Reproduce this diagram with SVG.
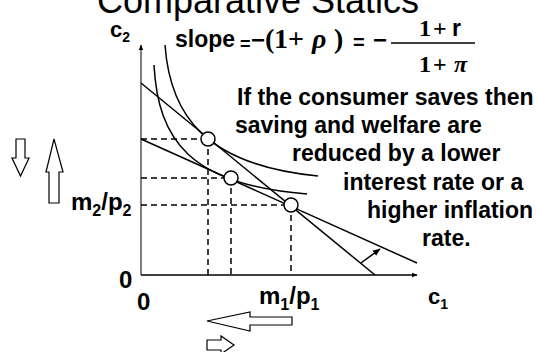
<svg xmlns="http://www.w3.org/2000/svg" width="537" height="352" viewBox="0 0 537 352">
<defs>
<style>
.ln{stroke:#000;stroke-width:1.5;fill:none}
.ds{stroke:#000;stroke-width:1.5;fill:none;stroke-dasharray:6,4}
.ax{stroke:#000;stroke-width:1.3;fill:none}
.pt{fill:#fff;stroke:#000;stroke-width:1.5}
.blk{fill:#fff;stroke:#000;stroke-width:1.2}
.sb{font-family:"Liberation Sans",Arial,sans-serif;font-weight:bold;fill:#000}
.sr{font-family:"Liberation Serif","Times New Roman",serif;font-weight:bold;fill:#000}
</style>
<marker id="ah" viewBox="0 0 10 10" refX="9" refY="5" markerWidth="6" markerHeight="6" orient="auto" markerUnits="userSpaceOnUse"><path d="M0,1 L10,5 L0,9 z" fill="#000"/></marker>
<marker id="ah2" viewBox="0 0 10 10" refX="9" refY="5" markerWidth="8" markerHeight="8" orient="auto" markerUnits="userSpaceOnUse"><path d="M0,1 L10,5 L0,9 z" fill="#000"/></marker>
</defs>
<rect width="537" height="352" fill="#fff"/>
<text x="258" y="13" text-anchor="middle" font-family="'Liberation Sans',Arial,sans-serif" font-size="36" fill="#000">Comparative Statics</text>

<g id="axes">
<line x1="141" y1="275" x2="141" y2="45" stroke="#555" stroke-width="1.5" marker-end="url(#ah)"/>
<line class="ax" x1="141" y1="275" x2="417" y2="275" marker-end="url(#ah)"/>
</g>

<g id="connectors">
<line class="ds" x1="141" y1="139" x2="208" y2="139"/>
<line class="ds" x1="141" y1="178" x2="231" y2="178"/>
<line class="ds" x1="141" y1="205" x2="291" y2="205"/>
<line class="ds" x1="208" y1="139" x2="208" y2="275"/>
<line class="ds" x1="231" y1="178" x2="231" y2="275"/>
<line class="ds" x1="291" y1="205" x2="291" y2="275"/>
<line class="ln" x1="141" y1="83" x2="375" y2="275"/>
<line class="ln" x1="141" y1="139" x2="417" y2="263"/>
<path class="ln" d="M165,45 C170,115 205,165 318,176"/>
<path class="ln" d="M154,65 C158,140 190,185 307,194"/>
<line class="ln" x1="361" y1="263" x2="380" y2="249" marker-end="url(#ah2)"/>
</g>

<g id="point1"><circle class="pt" cx="208" cy="139" r="7"/></g>
<g id="point2"><circle class="pt" cx="231" cy="178" r="7"/></g>
<g id="point3"><circle class="pt" cx="291" cy="205" r="7"/></g>

<g id="labels">
<text class="sb" x="110" y="37" font-size="22">c<tspan font-size="14" dy="5">2</tspan></text>
<text class="sb" x="428" y="304" font-size="22">c<tspan font-size="14" dy="5">1</tspan></text>
<text class="sb" x="71" y="210" font-size="24">m<tspan font-size="16" dy="6">2</tspan><tspan dy="-6">/p</tspan><tspan font-size="16" dy="6">2</tspan></text>
<text class="sb" x="259" y="304" font-size="24">m<tspan font-size="16" dy="6">1</tspan><tspan dy="-6">/p</tspan><tspan font-size="16" dy="6">1</tspan></text>
<text class="sb" x="119" y="288" font-size="24">0</text>
<text class="sb" x="137" y="310" font-size="24">0</text>
</g>

<g id="formula">
<text class="sb" x="175" y="47" font-size="23">slope</text>
<text class="sb" x="240" y="50" font-size="18">=</text>
<text class="sb" x="251" y="48" font-size="24">−</text>
<text class="sr" y="48" font-size="28"><tspan x="265">(</tspan><tspan x="274">1</tspan><tspan x="288">+</tspan><tspan x="312" font-style="italic">ρ</tspan><tspan x="334">)</tspan></text>
<text class="sb" x="353" y="49" font-size="20">=</text>
<text class="sb" x="373" y="48" font-size="24">−</text>
<line x1="391" y1="43" x2="475" y2="43" stroke="#000" stroke-width="1.5"/>
<text class="sr" y="36" font-size="24"><tspan x="419">1</tspan><tspan x="433">+</tspan></text>
<text class="sb" x="452" y="36" font-size="23">r</text>
<text class="sr" y="72" font-size="24"><tspan x="419">1</tspan><tspan x="433">+</tspan><tspan x="454" font-style="italic">π</tspan></text>
</g>

<g id="note">
<text class="sb" font-size="23"><tspan x="237" y="105">If the consumer saves then</tspan><tspan x="235" y="133">saving and welfare are</tspan><tspan x="292" y="161">reduced by a lower</tspan><tspan x="343" y="190">interest rate or a</tspan><tspan x="367" y="218">higher inflation</tspan><tspan x="422" y="246">rate.</tspan></text>
</g>

<g id="arrow-down-small"><path class="blk" d="M16,139 L25,139 L25,158 L29,158 L20.5,176 L12,158 L16,158 z"/></g>
<g id="arrow-up-big"><path class="blk" d="M49,203 L59,203 L59,172 L63,172 L54,139 L46,172 L49,172 z"/></g>
<g id="arrow-left-big"><path class="blk" d="M292,317 L292,325 L250,325 L250,331 L207,321 L250,312 L250,317 z"/></g>
<g id="arrow-right-small"><path class="blk" d="M207,340 L221,340 L221,336 L234,345 L221,354 L221,350 L207,350 z"/></g>
</svg>
